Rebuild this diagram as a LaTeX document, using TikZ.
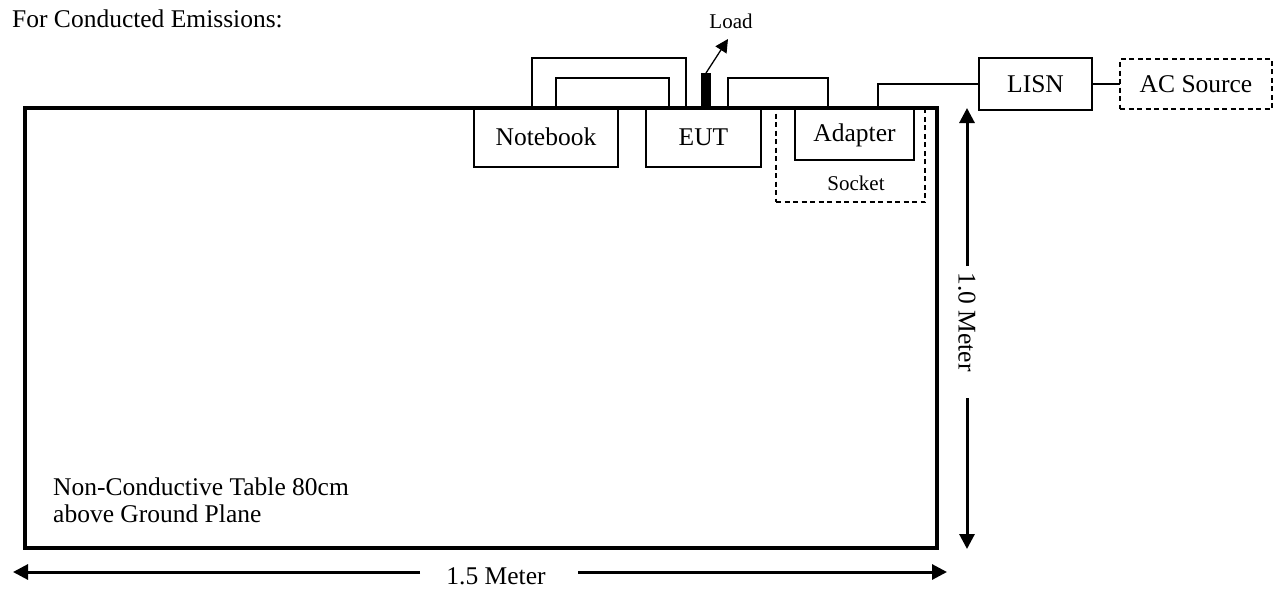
\documentclass[tikz,border=0pt]{standalone}
\usepackage{fontspec}
\setmainfont{Liberation Serif}
\usetikzlibrary{arrows.meta}
\begin{document}
\begin{tikzpicture}[x=1pt,y=-1pt,
  lbl/.style={font=\fontsize{25.5}{28}\selectfont},
  small/.style={font=\fontsize{21}{24}\selectfont},
  box/.style={draw, line width=1.4pt, outer sep=0pt, inner sep=0pt, lbl},
  dbox/.style={box, dashed, dash pattern=on 5pt off 3.5pt},
  tablebox/.style={draw, line width=4pt, outer sep=0pt, inner sep=0pt},
  cable/.style={line width=1.1pt},
  dim/.style={line width=3pt, -{Triangle[length=15pt,width=15pt]}},
]
\useasboundingbox (0,0) rectangle (1279,592);
% title
\node[lbl, anchor=base west, inner sep=0pt] (title) at (12,27) {For Conducted Emissions:};
% table
\node[tablebox, minimum width=912pt, minimum height=440pt] (table) at (481,327.5) {};
\node[lbl, anchor=base west, inner sep=0pt, align=left] (tabtxt1) at (53,495) {Non-Conductive Table 80cm};
\node[lbl, anchor=base west, inner sep=0pt, align=left] (tabtxt2) at (53,522) {above Ground Plane};
% socket
\node[draw, dashed, dash pattern=on 5pt off 3.5pt, line width=1.2pt, outer sep=0pt, minimum width=149pt, minimum height=95pt] (socket) at (850.5,154.5) {};
\node[small, anchor=base, inner sep=0pt] (sockettxt) at (856,190) {Socket};
% boxes
\node[box, minimum width=144pt, minimum height=60pt] (nb) at (546,137) {Notebook};
\node[box, minimum width=115pt, minimum height=60pt] (eut) at (703.5,137) {EUT};
\node[box, minimum width=119pt, minimum height=53pt, text depth=2pt] (adapter) at (854.5,133.5) {Adapter};
\node[box, minimum width=113pt, minimum height=52pt] (lisn) at (1035.5,84) {LISN};
\node[dbox, minimum width=152pt, minimum height=50pt] (ac) at (1196,84) {AC Source};
% redraw table top edge over box tops
\draw[line width=4pt] (table.north west) -- (table.north east);
% load
\node[fill=black, inner sep=0pt, outer sep=0pt, minimum width=10pt, minimum height=34pt] (loadblk) at (706,90) {};
\coordinate (loadtip) at (728,39);
\draw[line width=1.3pt, -{Triangle[length=13pt,width=13pt]}] (loadblk.north) -- (loadtip);
\node[small, anchor=base, inner sep=0pt] (loadtxt) at (731,28) {Load};
% cables
\coordinate (c1) at (600,58);
\coordinate (c2) at (600,78);
\coordinate (c3) at (780,78);
\draw[cable] ([xshift=58pt]nb.north west) |- (c1) -| ([xshift=40pt]eut.north west);
\draw[cable] ([xshift=82pt]nb.north west) |- (c2) -| ([xshift=23pt]eut.north west);
\draw[cable] ([xshift=82pt]eut.north west) |- (c3) -| ([xshift=33pt]adapter.north west);
\draw[cable] ([xshift=83pt]adapter.north west) |- (lisn.west);
\draw[cable] (lisn.east) -- (ac.west);
% vertical dimension
\coordinate (v1) at (967,266);
\coordinate (v1t) at (967,108);
\coordinate (v2) at (967,398);
\coordinate (v2t) at (967,549);
\draw[dim] (v1) -- (v1t);
\draw[dim] (v2) -- (v2t);
\node[lbl, rotate=-90, inner sep=0pt] (vtxt) at (967,322) {1.0 Meter};
% horizontal dimension
\coordinate (h1) at (420,572);
\coordinate (h1t) at (13,572);
\coordinate (h2) at (578,572);
\coordinate (h2t) at (947,572);
\draw[dim] (h1) -- (h1t);
\draw[dim] (h2) -- (h2t);
\node[lbl, inner sep=0pt] (htxt) at (496,576) {1.5 Meter};
\end{tikzpicture}
\end{document}
